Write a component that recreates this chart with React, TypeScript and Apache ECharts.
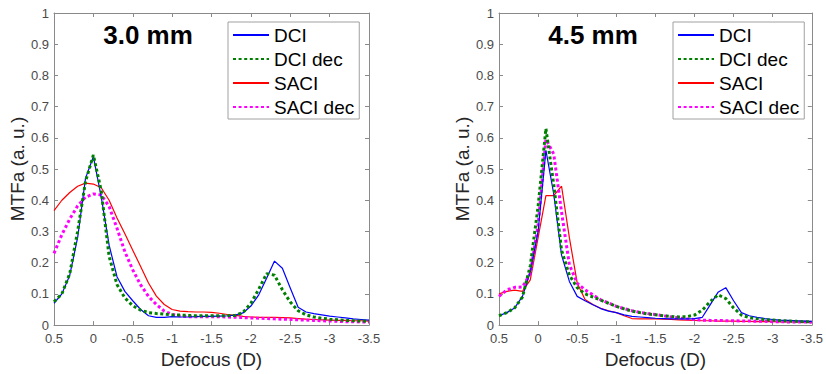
import React, { useEffect, useRef } from "react";
import * as echarts from "echarts";

const defocus = [0.5, 0.4, 0.3, 0.2, 0.1, 0, -0.1, -0.2, -0.3, -0.4, -0.5, -0.6, -0.7, -0.8, -0.9, -1.0, -1.1, -1.2, -1.3, -1.4, -1.5, -1.6, -1.7, -1.8, -1.9, -2.0, -2.1, -2.2, -2.3, -2.4, -2.5, -2.6, -2.7, -2.8, -2.9, -3.0, -3.1, -3.2, -3.3, -3.4, -3.5];

const seriesNames = ["DCI", "DCI dec", "SACI", "SACI dec"];
const panelTitles = ["3.0 mm", "4.5 mm"];

// 3.0 mm panel
const dci30 = [0.07, 0.10, 0.16, 0.28, 0.47, 0.54, 0.41, 0.256, 0.155, 0.108, 0.078, 0.05, 0.03, 0.025, 0.025, 0.027, 0.026, 0.026, 0.027, 0.028, 0.028, 0.029, 0.03, 0.032, 0.039, 0.061, 0.097, 0.15, 0.205, 0.182, 0.119, 0.057, 0.042, 0.037, 0.033, 0.029, 0.026, 0.023, 0.02, 0.018, 0.016];
const dciDec30 = [0.075, 0.10, 0.165, 0.30, 0.46, 0.545, 0.43, 0.22, 0.13, 0.087, 0.062, 0.048, 0.04, 0.037, 0.035, 0.033, 0.032, 0.031, 0.03, 0.03, 0.03, 0.03, 0.03, 0.031, 0.04, 0.07, 0.115, 0.165, 0.16, 0.113, 0.074, 0.046, 0.033, 0.026, 0.022, 0.019, 0.017, 0.015, 0.014, 0.013, 0.012];
const saci30 = [0.367, 0.40, 0.425, 0.445, 0.455, 0.452, 0.44, 0.40, 0.343, 0.293, 0.24, 0.188, 0.135, 0.093, 0.066, 0.05, 0.045, 0.043, 0.042, 0.042, 0.041, 0.038, 0.034, 0.031, 0.028, 0.026, 0.025, 0.025, 0.025, 0.024, 0.023, 0.021, 0.019, 0.018, 0.017, 0.016, 0.015, 0.015, 0.014, 0.014, 0.013];
const saciDec30 = [0.23, 0.29, 0.34, 0.382, 0.41, 0.42, 0.417, 0.38, 0.31, 0.235, 0.177, 0.129, 0.092, 0.066, 0.045, 0.034, 0.029, 0.027, 0.027, 0.027, 0.027, 0.027, 0.026, 0.025, 0.024, 0.023, 0.022, 0.021, 0.02, 0.019, 0.018, 0.017, 0.016, 0.015, 0.014, 0.013, 0.012, 0.011, 0.011, 0.01, 0.01];

// 4.5 mm panel
const dci45 = [0.03, 0.04, 0.055, 0.092, 0.17, 0.30, 0.56, 0.42, 0.224, 0.14, 0.092, 0.078, 0.065, 0.053, 0.045, 0.04, 0.033, 0.028, 0.026, 0.024, 0.022, 0.021, 0.02, 0.02, 0.02, 0.021, 0.025, 0.065, 0.105, 0.12, 0.078, 0.04, 0.03, 0.025, 0.021, 0.018, 0.016, 0.015, 0.014, 0.013, 0.012];
const dciDec45 = [0.03, 0.04, 0.055, 0.09, 0.19, 0.38, 0.63, 0.45, 0.24, 0.16, 0.12, 0.10, 0.09, 0.08, 0.07, 0.06, 0.052, 0.045, 0.04, 0.036, 0.033, 0.03, 0.028, 0.026, 0.027, 0.032, 0.048, 0.075, 0.097, 0.085, 0.055, 0.032, 0.024, 0.02, 0.018, 0.016, 0.014, 0.013, 0.012, 0.011, 0.01];
const saci45 = [0.10, 0.108, 0.112, 0.108, 0.145, 0.28, 0.415, 0.415, 0.445, 0.28, 0.135, 0.082, 0.066, 0.054, 0.046, 0.04, 0.03, 0.021, 0.02, 0.02, 0.02, 0.019, 0.018, 0.017, 0.016, 0.015, 0.014, 0.014, 0.013, 0.013, 0.013, 0.012, 0.012, 0.011, 0.011, 0.011, 0.01, 0.01, 0.01, 0.009, 0.009];
const saciDec45 = [0.092, 0.113, 0.121, 0.122, 0.165, 0.32, 0.595, 0.548, 0.362, 0.193, 0.134, 0.113, 0.097, 0.081, 0.071, 0.06, 0.053, 0.046, 0.041, 0.037, 0.034, 0.03, 0.026, 0.023, 0.02, 0.018, 0.016, 0.015, 0.015, 0.014, 0.014, 0.013, 0.013, 0.012, 0.012, 0.011, 0.011, 0.01, 0.01, 0.01, 0.009];

const FONT = "Liberation Sans, Arial, sans-serif";
const AXIS_COLOR = "#8a8a8a";
const LABEL_COLOR = "#4a4a4a";
const NAME_COLOR = "#262626";

const styles = [
  { color: "#0000ff", width: 1.2, type: "solid" as any },
  { color: "#008000", width: 3, type: [3, 2.6] as any },
  { color: "#ff0000", width: 1.2, type: "solid" as any },
  { color: "#ff00ff", width: 3, type: [3, 2.6] as any },
];

export default function App() {
  const ref = useRef<HTMLDivElement>(null);
  useEffect(() => {
    if (!ref.current) return;
    const chart = echarts.init(ref.current, undefined, { renderer: "svg" });
    const grids = [
      { left: 54, top: 13, width: 315, height: 314 },
      { left: 499, top: 13, width: 315, height: 314 },
    ];
    const xAxes: any[] = [];
    const yAxes: any[] = [];
    grids.forEach((_, g) => {
      const baseX = {
        type: "value",
        gridIndex: g,
        min: -3.5,
        max: 0.5,
        interval: 0.5,
        inverse: true,
        splitLine: { show: false },
        axisLine: { show: true, onZero: false, lineStyle: { color: AXIS_COLOR, width: 1 } },
        axisTick: { show: true, inside: true, length: 4, lineStyle: { color: AXIS_COLOR } },
      };
      xAxes.push({
        ...baseX,
        position: "bottom",
        name: "Defocus (D)",
        nameLocation: "middle",
        nameGap: 23,
        nameTextStyle: { fontSize: 19, color: NAME_COLOR, fontFamily: FONT },
        axisLabel: { show: true, fontSize: 13, color: LABEL_COLOR, fontFamily: FONT, margin: 7 },
      });
      xAxes.push({ ...baseX, position: "top", axisLabel: { show: false } });
      const baseY = {
        type: "value",
        gridIndex: g,
        min: 0,
        max: 1,
        interval: 0.1,
        splitLine: { show: false },
        axisLine: { show: true, onZero: false, lineStyle: { color: AXIS_COLOR, width: 1 } },
        axisTick: { show: true, inside: true, length: 4, lineStyle: { color: AXIS_COLOR } },
      };
      yAxes.push({
        ...baseY,
        position: "left",
        name: "MTFa (a. u.)",
        nameLocation: "middle",
        nameGap: 27,
        nameTextStyle: { fontSize: 19, color: NAME_COLOR, fontFamily: FONT },
        axisLabel: { show: true, fontSize: 13, color: LABEL_COLOR, fontFamily: FONT, margin: 5 },
      });
      yAxes.push({ ...baseY, position: "right", axisLabel: { show: false } });
    });

    const panels = [
      [dci30, dciDec30, saci30, saciDec30],
      [dci45, dciDec45, saci45, saciDec45],
    ];
    const series: any[] = [];
    panels.forEach((arrs, g) => {
      arrs.forEach((vals, i) => {
        series.push({
          type: "line",
          name: seriesNames[i],
          xAxisIndex: g * 2,
          yAxisIndex: g * 2,
          data: defocus.map((x, k) => [x, vals[k]]),
          showSymbol: false,
          symbol: "none",
          smooth: false,
          z: i === 0 ? 3 : i === 1 ? 4 : 2,
          lineStyle: { color: styles[i].color, width: styles[i].width, type: styles[i].type, cap: "butt" },
          itemStyle: { color: styles[i].color },
        });
      });
    });

    const legendCommon = {
      orient: "vertical",
      top: 22,
      data: seriesNames,
      itemWidth: 36,
      itemHeight: 12,
      itemGap: 4,
      padding: [3, 5, 2, 4],
      backgroundColor: "#ffffff",
      borderColor: "#a0a0a0",
      borderWidth: 1,
      borderRadius: 0,
      selectedMode: false,
      itemStyle: { opacity: 0 },
      textStyle: { fontSize: 19, color: "#000000", fontFamily: FONT, lineHeight: 20, padding: [0, 0, 0, 0] },
    };

    chart.setOption({
      animation: false,
      backgroundColor: "#ffffff",
      grid: grids,
      xAxis: xAxes,
      yAxis: yAxes,
      series,
      legend: [
        { ...legendCommon, left: 228 },
        { ...legendCommon, left: 673 },
      ],
      graphic: [
        {
          type: "text",
          x: 148,
          y: 35,
          style: { text: panelTitles[0], font: `bold 26px ${FONT}`, fill: "#000", textAlign: "center", textVerticalAlign: "middle" },
        },
        {
          type: "text",
          x: 593,
          y: 35,
          style: { text: panelTitles[1], font: `bold 26px ${FONT}`, fill: "#000", textAlign: "center", textVerticalAlign: "middle" },
        },
      ],
    });
    return () => chart.dispose();
  }, []);
  return <div ref={ref} style={{ position: "absolute", left: 0, top: 0, width: 826, height: 374 }} />;
}
